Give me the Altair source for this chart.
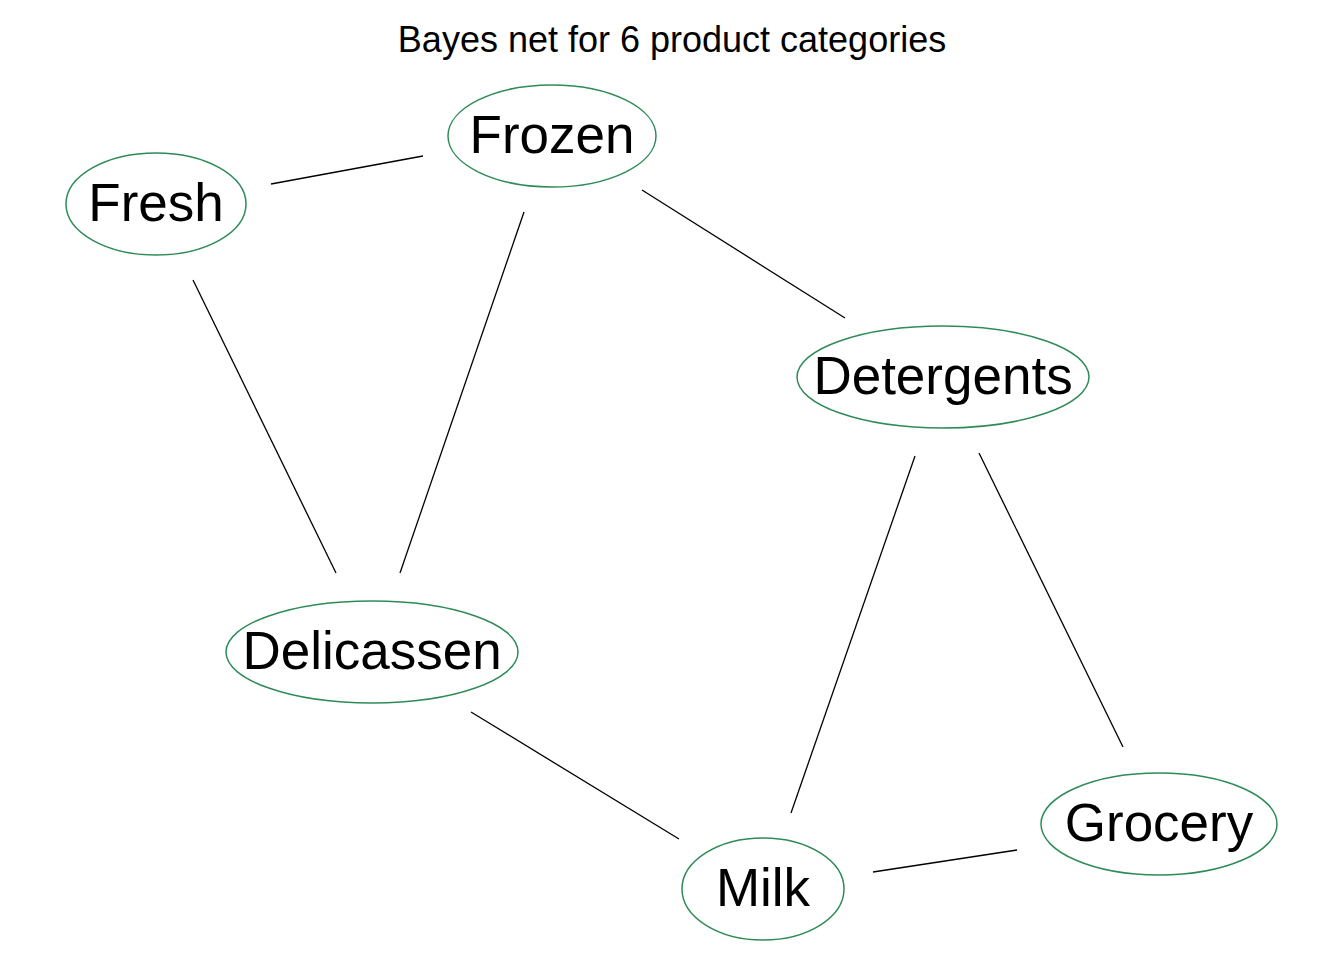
import altair as alt
import pandas as pd

# node layout (pixel coordinates of the page)
node_names = ["Fresh", "Frozen", "Detergents", "Delicassen", "Milk", "Grocery"]
node_x = [156, 552, 943, 372, 763, 1159]
node_y = [204, 136, 377, 652, 889, 824]
node_w = [180, 208, 292, 292, 162, 236]
node_h = [102, 102, 102, 102, 102, 102]

# edge segments (drawn with gaps around the nodes)
edge_x1 = [271, 193, 524, 642, 915, 979, 471, 873]
edge_y1 = [184, 280, 212, 190, 456, 453, 712, 872]
edge_x2 = [423, 336, 400, 845, 791, 1123, 679, 1017]
edge_y2 = [156, 573, 573, 318, 813, 747, 839, 850]

title_text = "Bayes net for 6 product categories"


def ellipse_path(w, h):
    r = h / w
    return f"M-1,0A1,{r:.4f} 0 1,1 1,0A1,{r:.4f} 0 1,1 -1,0Z"


nodes = pd.DataFrame({
    "name": node_names, "x": node_x, "y": node_y,
    "size": [w * w for w in node_w],
})
edges = pd.DataFrame({"x": edge_x1, "y": edge_y1, "x2": edge_x2, "y2": edge_y2})

xs = alt.Scale(domain=[8, 1336], nice=False, zero=False)
ys = alt.Scale(domain=[952, 8], nice=False, zero=False)
X = lambda f: alt.X(f, scale=xs, axis=None)
Y = lambda f: alt.Y(f, scale=ys, axis=None)

lines = alt.Chart(edges).mark_rule(color="black", strokeWidth=1.3).encode(
    x=X("x:Q"), y=Y("y:Q"), x2="x2:Q", y2="y2:Q"
)

ellipses = alt.Chart(nodes).mark_point(
    filled=False, color="#2e8b57", strokeWidth=1.5, opacity=1
).encode(
    x=X("x:Q"), y=Y("y:Q"),
    size=alt.Size("size:Q", scale=None, legend=None),
    shape=alt.Shape("name:N", legend=None,
                    scale=alt.Scale(domain=node_names,
                                    range=[ellipse_path(w, h) for w, h in zip(node_w, node_h)])),
)

labels = alt.Chart(nodes).mark_text(
    font="Liberation Sans", fontSize=53, color="black", baseline="middle", dy=1
).encode(x=X("x:Q"), y=Y("y:Q"), text="name:N")

title = alt.Chart(pd.DataFrame({"t": [title_text]})).mark_text(
    font="Liberation Sans", fontSize=36, color="black", baseline="middle"
).encode(x=alt.value(664), y=alt.value(33), text="t:N")

chart = alt.layer(lines, ellipses, labels, title).properties(
    width=1328, height=944, padding=0, autosize=alt.AutoSizeParams(type="none")
).configure_view(stroke=None)

chart.save("out.html", embed_options={"renderer": "svg", "actions": False})
